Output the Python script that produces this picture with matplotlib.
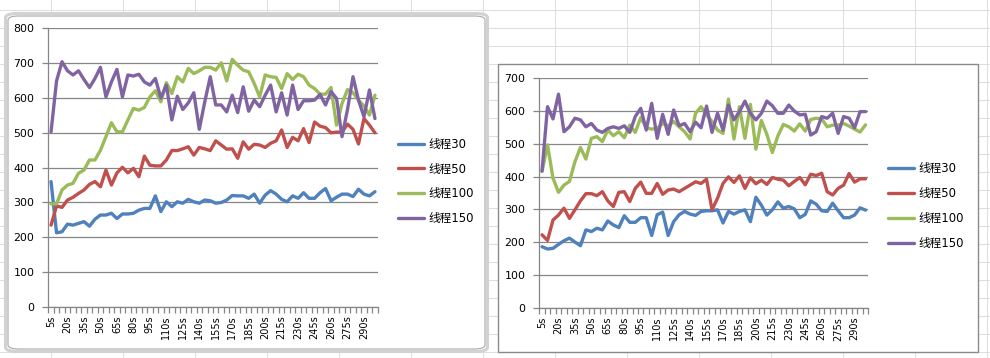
import matplotlib
matplotlib.use('Agg')
import matplotlib.pyplot as plt
from matplotlib.patches import FancyBboxPatch, Rectangle
from matplotlib.lines import Line2D
from matplotlib.font_manager import FontProperties
import numpy as np

# ---------------- data ----------------
categories = ['5s', '10s', '15s', '20s', '25s', '30s', '35s', '40s', '45s', '50s',
              '55s', '60s', '65s', '70s', '75s', '80s', '85s', '90s', '95s', '100s',
              '105s', '110s', '115s', '120s', '125s', '130s', '135s', '140s', '145s', '150s',
              '155s', '160s', '165s', '170s', '175s', '180s', '185s', '190s', '195s', '200s',
              '205s', '210s', '215s', '220s', '225s', '230s', '235s', '240s', '245s', '250s',
              '255s', '260s', '265s', '270s', '275s', '280s', '285s', '290s', '295s', '300s']
series_names = ['线程30', '线程50', '线程100', '线程150']

left_t30 = [360, 213, 216, 238, 235, 240, 245, 232, 252, 264,
            264, 269, 254, 267, 267, 269, 278, 283, 283, 319,
            274, 302, 288, 302, 298, 309, 302, 298, 307, 305,
            298, 300, 307, 320, 319, 319, 312, 324, 298, 321,
            334, 324, 309, 302, 319, 312, 328, 312, 312, 328,
            340, 305, 315, 324, 324, 317, 338, 324, 319, 331]
left_t50 = [235, 290, 286, 307, 315, 326, 336, 352, 360, 345,
            393, 350, 385, 401, 385, 398, 374, 433, 407, 405,
            405, 422, 449, 449, 454, 460, 436, 458, 454, 449,
            477, 465, 453, 454, 427, 474, 453, 467, 465, 458,
            470, 477, 508, 458, 487, 477, 512, 472, 531, 519,
            515, 500, 502, 502, 525, 510, 468, 541, 522, 500]
left_t100 = [296, 296, 336, 350, 355, 384, 393, 422, 422, 450,
             489, 529, 503, 503, 537, 570, 565, 573, 603, 621,
             589, 644, 613, 661, 646, 685, 670, 678, 688, 688,
             680, 701, 649, 711, 694, 680, 675, 642, 603, 666,
             661, 659, 627, 670, 653, 668, 661, 637, 627, 611,
             611, 630, 522, 584, 624, 615, 594, 577, 551, 608]
left_t150 = [503, 649, 704, 678, 666, 678, 653, 630, 656, 688,
             603, 646, 682, 603, 666, 663, 668, 646, 637, 656,
             600, 637, 537, 605, 567, 586, 615, 510, 589, 661,
             580, 580, 560, 608, 558, 632, 562, 594, 575, 608,
             637, 560, 615, 551, 637, 567, 592, 592, 594, 610,
             580, 618, 599, 489, 567, 661, 594, 546, 623, 541]

right_t30 = [187, 180, 182, 194, 205, 213, 201, 190, 238, 233,
             243, 238, 265, 253, 245, 281, 261, 261, 275, 275,
             221, 284, 292, 221, 263, 284, 294, 286, 282, 294,
             296, 296, 299, 259, 294, 286, 294, 299, 263, 337,
             313, 283, 299, 323, 304, 309, 302, 275, 285, 326,
             316, 296, 294, 319, 296, 275, 275, 283, 305, 298]
right_t50 = [223, 206, 268, 283, 304, 273, 299, 326, 348, 348,
             342, 354, 326, 309, 352, 354, 324, 364, 383, 349,
             349, 379, 346, 359, 362, 354, 364, 374, 384, 379,
             392, 299, 334, 379, 399, 382, 402, 364, 396, 378,
             389, 376, 397, 392, 389, 372, 385, 397, 375, 407,
             403, 410, 354, 344, 364, 374, 409, 383, 393, 393]
right_t100 = [415, 496, 395, 352, 374, 385, 445, 488, 453, 516,
              521, 506, 541, 524, 536, 518, 556, 534, 579, 548,
              544, 546, 561, 554, 567, 551, 536, 514, 592, 612,
              587, 567, 541, 531, 635, 514, 612, 516, 619, 483,
              570, 528, 473, 523, 558, 551, 538, 560, 538, 573,
              577, 575, 551, 556, 556, 561, 553, 544, 535, 557]
right_t150 = [417, 612, 575, 650, 536, 551, 577, 572, 551, 561,
              541, 534, 546, 551, 546, 554, 534, 582, 607, 541,
              622, 516, 589, 528, 602, 554, 561, 536, 565, 548,
              614, 534, 592, 541, 617, 572, 597, 629, 592, 572,
              592, 629, 615, 592, 592, 617, 599, 587, 589, 526,
              536, 582, 577, 592, 531, 582, 577, 548, 597, 597]

left_yticks = [0, 100, 200, 300, 400, 500, 600, 700, 800]
right_yticks = [0, 100, 200, 300, 400, 500, 600, 700]

colors = ['#4F81BD', '#C0504D', '#9BBB59', '#8064A2']

# ---------------- figure ----------------
W, H = 990, 358
fig = plt.figure(figsize=(9.9, 3.58), dpi=100)
fig.patch.set_facecolor('white')


def fx(x):
    return x / W


def fy(y):
    return 1 - y / H


# spreadsheet cell grid in the background
for gx in range(51, W, 72):
    fig.add_artist(Line2D([fx(gx), fx(gx)], [0, 1], color='#dedede', lw=0.75, zorder=-5))
for gy in range(352, 0, -18):
    fig.add_artist(Line2D([0, 1], [fy(gy), fy(gy)], color='#dedede', lw=0.75, zorder=-5))

# chart frames
left_frame_outer = FancyBboxPatch((fx(5.5), fy(351.5)), fx(487.5) - fx(5.5), fy(13.5) - fy(351.5),
                                  boxstyle='round,pad=0,rounding_size=0.012',
                                  transform=fig.transFigure, facecolor='white',
                                  edgecolor='#d2d2d2', lw=2.2, zorder=-3)
fig.add_artist(left_frame_outer)
left_frame_inner = FancyBboxPatch((fx(8), fy(349)), fx(485) - fx(8), fy(16) - fy(349),
                                  boxstyle='round,pad=0,rounding_size=0.011',
                                  transform=fig.transFigure, facecolor='white',
                                  edgecolor='#a8a8a8', lw=0.8, zorder=-2)
fig.add_artist(left_frame_inner)
right_frame = Rectangle((fx(498.5), fy(351.5)), fx(978) - fx(498.5), fy(64) - fy(351.5),
                        transform=fig.transFigure, facecolor='white',
                        edgecolor='#8a8a8a', lw=1.0, zorder=-2)
fig.add_artist(right_frame)

legend_font = FontProperties(family=['DejaVu Sans', 'Noto Sans CJK SC'], size=8.4)


def draw_chart(px_left, px_right, px_top, px_bottom, data, yticks, leg_x, leg_y):
    ax = fig.add_axes([fx(px_left), fy(px_bottom), fx(px_right) - fx(px_left),
                       fy(px_top) - fy(px_bottom)])
    x = np.arange(len(categories))
    for name, vals, c in zip(series_names, data, colors):
        ax.plot(x, vals, color=c, lw=2.4, label=name,
                solid_joinstyle='round', solid_capstyle='round')
    ax.set_xlim(-0.5, len(categories) - 0.5)
    ax.set_ylim(yticks[0], yticks[-1])
    ax.set_yticks(yticks)
    ax.yaxis.grid(True, color='#868686', lw=0.9)
    ax.set_axisbelow(True)
    for s in ['top', 'right']:
        ax.spines[s].set_visible(False)
    for s in ['left', 'bottom']:
        ax.spines[s].set_color('#868686')
        ax.spines[s].set_linewidth(0.9)
    ax.set_xticks(x[::3])
    ax.set_xticklabels(categories[::3], rotation=90)
    ax.set_xticks(np.arange(-0.5, len(categories), 1), minor=True)
    ax.tick_params(axis='x', which='major', length=0, pad=6, labelsize=7.0)
    ax.tick_params(axis='x', which='minor', length=4, color='#868686', width=0.9)
    ax.tick_params(axis='y', length=4, color='#868686', width=0.9, pad=6, labelsize=7.9)
    ax.set_facecolor('white')
    ax.legend(loc='center left', bbox_to_anchor=(fx(leg_x), fy(leg_y)),
              bbox_transform=fig.transFigure, frameon=False, prop=legend_font,
              handlelength=2.25, handletextpad=0.35, labelspacing=1.02,
              borderpad=0, borderaxespad=0)
    return ax


draw_chart(48.3, 377.7, 28.3, 307.0,
           [left_t30, left_t50, left_t100, left_t150], left_yticks, 398, 181.5)
draw_chart(539.3, 868.3, 77.7, 308.3,
           [right_t30, right_t50, right_t100, right_t150], right_yticks, 888, 206)

fig.savefig('out.png', dpi=100, facecolor='white')
